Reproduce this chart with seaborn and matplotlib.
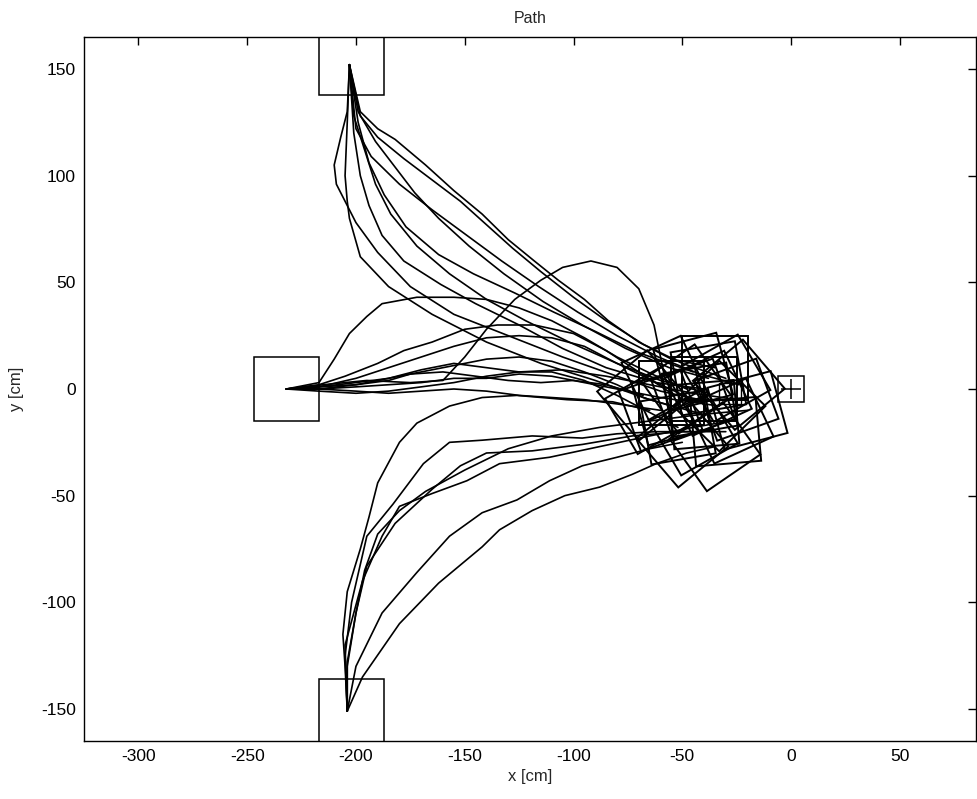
import matplotlib
matplotlib.use("Agg")
import matplotlib.pyplot as plt
from matplotlib.patches import Rectangle
import seaborn as sns
import pandas as pd

# ---------------- data (cm) ----------------
# start boxes (lower-left corner x, y, side)
start_boxes = [(-247, -15, 30), (-217, 138, 30), (-217, -166, 30)]
target_box = (-6, -6, 12)
target_point = (0, 0)
small_box = (-33, -7, 10)
robot_side = 30

# paths from the upper start box
T1 = [(-203,152),(-204,130),(-207,118),(-210,105),(-209,96),(-205,88),(-200,78),(-190,64),(-175,48),(-155,35),(-130,25),(-105,15),(-80,6),(-60,-1),(-42,-5)]
T2 = [(-203,152),(-204,125),(-205,100),(-204,88),(-203,80),(-198,62),(-185,48),(-165,35),(-140,22),(-115,12),(-90,4),(-65,-5),(-40,-12)]
T3 = [(-203,152),(-201,128),(-196,112),(-191,96),(-184,82),(-172,67),(-157,54),(-140,42),(-122,32),(-102,22),(-80,12),(-60,4),(-38,-2)]
T4 = [(-203,152),(-199,130),(-191,116),(-182,104),(-173,92),(-162,80),(-148,67),(-132,54),(-114,41),(-96,30),(-76,19),(-56,10),(-38,5)]
T5 = [(-203,152),(-198,128),(-190,118),(-178,108),(-165,98),(-152,88),(-140,77),(-128,66),(-115,55),(-100,43),(-85,32),(-68,21),(-50,12),(-30,5)]
T6 = [(-203,152),(-198,130),(-190,122),(-182,117),(-168,105),(-155,93),(-142,82),(-130,70),(-118,60),(-107,51),(-95,42),(-84,32),(-70,22),(-55,14),(-35,10)]
T7 = [(-203,152),(-199,125),(-194,106),(-187,91),(-177,76),(-162,63),(-146,54),(-127,45),(-109,36),(-90,27),(-70,17),(-45,8)]
T8 = [(-203,152),(-201,120),(-198,100),(-194,86),(-188,72),(-178,60),(-161,49),(-145,40),(-125,30),(-105,19),(-85,10),(-62,3),(-40,0)]
T9 = [(-203,152),(-200,122),(-193,109),(-180,96),(-165,84),(-149,72),(-133,60),(-116,48),(-98,36),(-80,25),(-61,15),(-42,7),(-24,2)]

# paths from the left start box
L1 = [(-232,0),(-215,2),(-195,4),(-175,3),(-160,4),(-150,15),(-140,28),(-127,42),(-115,51),(-105,57),(-92,60),(-80,57),(-70,47),(-63,30),(-58,5)]
L2 = [(-232,0),(-217,3),(-210,14),(-203,26),(-195,34),(-188,40),(-172,43),(-155,43),(-140,42),(-125,38),(-110,32),(-95,24),(-80,15),(-64,7),(-48,0)]
L3 = [(-232,0),(-217,2),(-205,6),(-190,12),(-178,18),(-165,22),(-150,28),(-135,30),(-118,30),(-100,26),(-85,18),(-70,8),(-55,-2)]
L4 = [(-232,0),(-217,1),(-200,5),(-185,10),(-170,15),(-155,20),(-140,24),(-125,25),(-110,24),(-95,20),(-80,12),(-62,3),(-45,-5)]
L5 = [(-232,0),(-217,1),(-200,3),(-185,5),(-170,8),(-155,11),(-140,14),(-125,15),(-110,13),(-95,8),(-80,2),(-68,-4),(-55,-8)]
L6 = [(-232,0),(-217,0),(-200,1),(-185,2),(-170,3),(-155,5),(-140,5),(-125,7),(-110,6),(-95,3),(-80,0),(-60,-4),(-33,-8)]
L7 = [(-232,0),(-217,0),(-200,-1),(-185,-2),(-170,-1),(-155,0),(-140,-1),(-125,-3),(-110,-4),(-95,-5),(-80,-7),(-60,-10)]
L8 = [(-232,0),(-217,-1),(-200,-2),(-185,-1),(-170,1),(-155,3),(-140,6),(-125,8),(-110,8),(-95,4),(-80,-3),(-65,-11),(-52,-18)]
L9 = [(-232,0),(-217,0),(-200,2),(-185,4),(-175,7),(-160,8),(-145,6),(-130,4),(-115,3),(-100,4),(-85,2),(-68,-3)]
L10 = [(-232,0),(-217,1),(-200,2),(-185,5),(-170,9),(-155,12),(-140,10),(-125,8),(-105,9),(-85,6),(-65,2),(-45,-2),(-25,-5)]

# paths from the lower start box
B1 = [(-204,-151),(-205,-130),(-206,-115),(-204,-95),(-198,-75),(-194,-60),(-190,-44),(-180,-25),(-172,-16),(-157,-8),(-142,-4),(-126,-3),(-103,-5),(-82,-6),(-65,-10)]
B2 = [(-204,-151),(-205,-125),(-202,-100),(-195,-69),(-183,-54),(-169,-35),(-157,-25),(-142,-24),(-119,-22),(-96,-23),(-80,-21),(-62,-20),(-45,-20)]
B3 = [(-204,-151),(-204,-130),(-200,-105),(-195,-83),(-182,-63),(-165,-47),(-152,-36),(-140,-30),(-119,-29),(-96,-26),(-73,-22),(-50,-20),(-30,-20)]
B4 = [(-204,-151),(-200,-130),(-188,-105),(-172,-86),(-157,-69),(-142,-58),(-126,-52),(-111,-43),(-96,-36),(-80,-32),(-65,-28),(-50,-25)]
B5 = [(-204,-151),(-197,-135),(-180,-110),(-162,-91),(-142,-74),(-134,-66),(-119,-57),(-104,-50),(-88,-46),(-73,-40),(-62,-35),(-48,-30),(-35,-27)]
B6 = [(-204,-151),(-205,-120),(-197,-90),(-188,-69),(-180,-55),(-165,-49),(-149,-43),(-134,-35),(-111,-32),(-88,-27),(-65,-22),(-45,-18),(-28,-15)]
B7 = [(-204,-151),(-204,-128),(-200,-105),(-196,-85),(-190,-68),(-180,-57),(-168,-48),(-150,-38),(-130,-28),(-110,-22),(-88,-18),(-65,-15),(-42,-12),(-20,-10)]

paths = [T1, T2, T3, T4, T5, T6, T7, T8, T9,
         L1, L2, L3, L4, L5, L6, L7, L8, L9, L10,
         B1, B2, B3, B4, B5, B6, B7]
# final heading of the robot footprint (deg) for each path, same order
end_angles = [10, 5, 25, 10, 30, 0, 15, 0, 40,
              25, 35, 0, 20, 15, 45, 20, 10, 40, 20,
              30, 30, 5, 40, 35, 25, 15]

x_ticks = [-300, -250, -200, -150, -100, -50, 0, 50]
y_ticks = [-150, -100, -50, 0, 50, 100, 150]

# ---------------- plotting ----------------
sns.set_style("white")
plt.rcParams['font.family'] = ['Liberation Sans', 'DejaVu Sans']
plt.rcParams['axes.unicode_minus'] = False

rows = []
for pid, p in enumerate(paths):
    for k, (x, y) in enumerate(p):
        rows.append({"path": pid, "order": k, "x": x, "y": y})
df = pd.DataFrame(rows)

fig = plt.figure(figsize=(9.77, 7.99), dpi=100)
ax = fig.add_axes([84/977, 58/799, (976-84)/977, (741-37)/799])

sns.lineplot(data=df, x="x", y="y", units="path", estimator=None, sort=False,
             color="black", linewidth=1.2, legend=False, ax=ax)

for (bx, by, s) in start_boxes:
    ax.add_patch(Rectangle((bx, by), s, s, fill=False, edgecolor="black", lw=1.1))

for p, ang in zip(paths, end_angles):
    cx, cy = p[-1]
    ax.add_patch(Rectangle((cx - robot_side/2, cy - robot_side/2), robot_side, robot_side,
                           angle=ang, rotation_point="center",
                           fill=False, edgecolor="black", lw=1.4))

ax.add_patch(Rectangle(target_box[:2], target_box[2], target_box[2],
                       fill=False, edgecolor="black", lw=1.1))
ax.add_patch(Rectangle(small_box[:2], small_box[2], small_box[2],
                       fill=False, edgecolor="black", lw=1.0))
ax.plot([target_point[0]], [target_point[1]], marker="+", color="black",
        markersize=14, markeredgewidth=1.1)

ax.set_xlim(-325, 85)
ax.set_ylim(-165, 165)
ax.set_xticks(x_ticks)
ax.set_yticks(y_ticks)
ax.tick_params(direction="in", length=6, width=1, top=True, right=True,
               labelsize=12.5, colors="black", pad=6)
for sp in ax.spines.values():
    sp.set_visible(True)
    sp.set_color("black")
    sp.set_linewidth(1.0)

ax.set_title("Path", fontsize=11.5, pad=10)
ax.set_xlabel("x [cm]", fontsize=12, labelpad=3)
ax.set_ylabel("y [cm]", fontsize=12, labelpad=12)

fig.savefig("out.png", dpi=100, facecolor="white")
